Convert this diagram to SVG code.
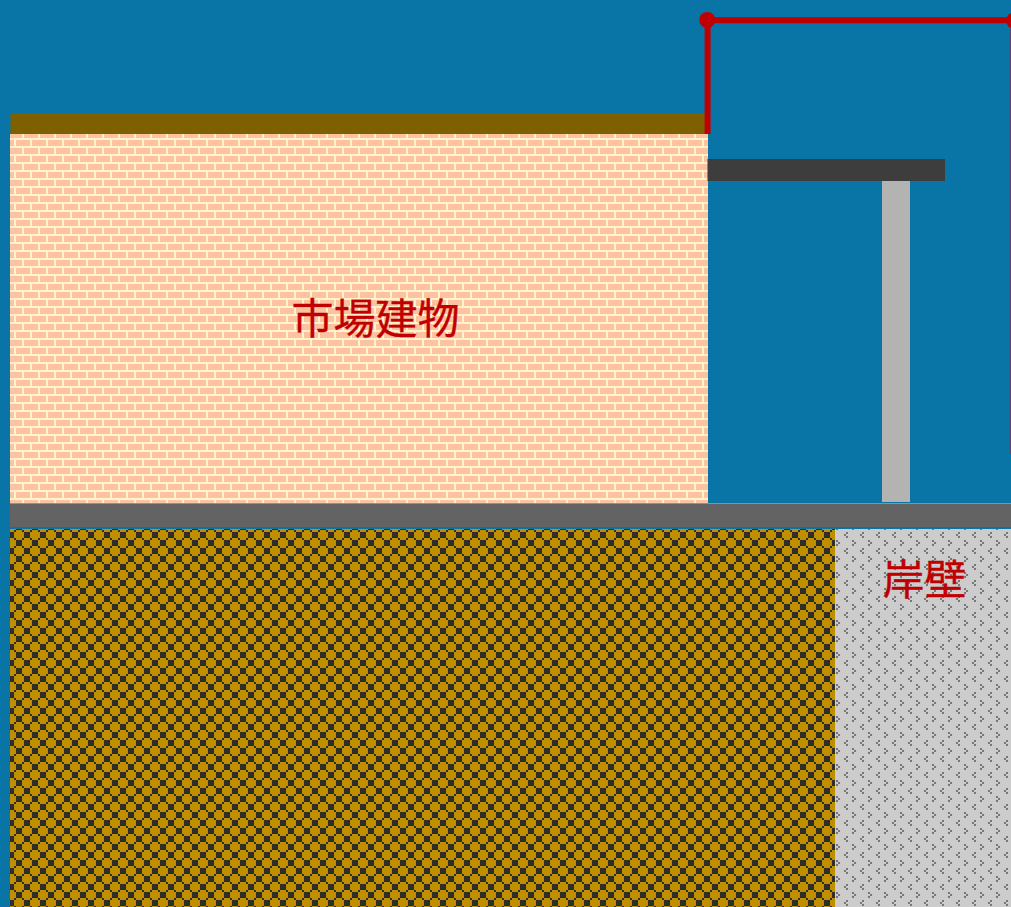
<svg xmlns="http://www.w3.org/2000/svg" width="1011" height="907" viewBox="0 0 1011 907">
<style>
.lbl{font-family:"Noto Sans CJK JP","Noto Sans CJK SC",sans-serif;font-size:42px;fill:#c00000;stroke:#c00000;stroke-width:.35;text-anchor:middle}
</style>
<defs>
<pattern id="brick" width="16" height="16" patternUnits="userSpaceOnUse" y="4">
<rect width="16" height="16" fill="#fff2cc"/>
<path fill="#fdc3a0" d="M8 0h14v6H8zM-8 0h14v6H-8zM0 8h14v6H0z"/>
</pattern>
<pattern id="checker" width="16" height="16" patternUnits="userSpaceOnUse">
<rect width="16" height="16" fill="#bf8f00"/>
<path fill="#2e2e2e" d="M8 4h6v6H8zM0 12h6v4H0zM0 0h6v2H0zM6 10h2v2H6zM14 10h2v2h-2zM6 2h2v2H6zM14 2h2v2h-2z"/>
</pattern>
<pattern id="speck" width="16" height="16" patternUnits="userSpaceOnUse">
<rect width="16" height="16" fill="#cccccc"/>
<path fill="#777" d="M14 4h2v2h-2zM12 6h2v2h-2zM14 8h2v2h-2zM4 12h2v2H4zM6 14h2v2H6zM4 0h2v2H4z"/>
</pattern>
</defs>
<rect id="background" width="1011" height="907" fill="#0975a7"/>
<g id="building">
<rect x="10" y="134" width="698" height="369" fill="url(#brick)"/>
<rect x="10.500" y="113" width="695.500" height="21" fill="#7f6000"/>
</g>
<g id="canopy">
<rect x="707.500" y="159" width="237.500" height="22" fill="#3d3d3d"/>
<rect x="882" y="181" width="28" height="321" fill="#b3b3b3"/>
</g>
<g id="ground">
<rect x="10" y="503" width="1001" height="1" fill="#8a9a70"/>
<rect x="10" y="504" width="1001" height="23" fill="#636363"/>
<rect x="10" y="529" width="825" height="378" fill="url(#checker)"/>
<rect x="835" y="529" width="176" height="378" fill="url(#speck)"/>
</g>
<g id="connectors" fill="none" stroke="#c00000" stroke-width="6">
<path d="M707.600 134V20.300H1011"/>
</g>
<g id="marks">
<circle cx="707.300" cy="20" r="8" fill="#c00000"/>
<circle cx="1014" cy="20.500" r="8" fill="#c00000"/>
<rect x="1010" y="28" width="1" height="426" fill="#6b3a66"/>
</g>
<text class="lbl" x="375.500" y="334">市場建物</text>
<text class="lbl" x="924.500" y="595">岸壁</text>
</svg>
